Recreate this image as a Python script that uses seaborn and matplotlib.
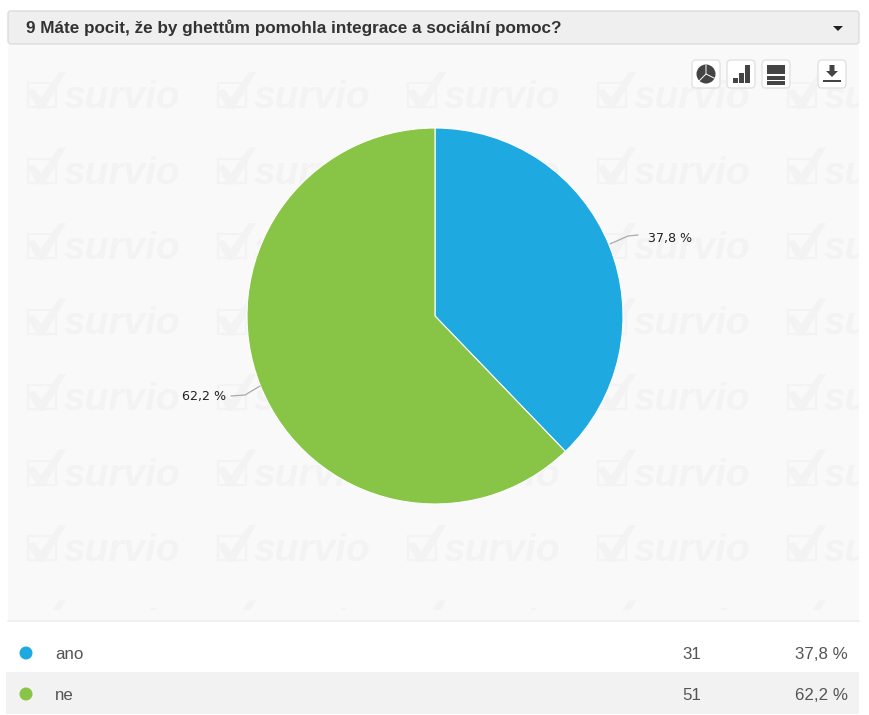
import matplotlib
matplotlib.use('Agg')
import matplotlib.pyplot as plt
from matplotlib.patches import Rectangle, FancyBboxPatch, Circle, Polygon
import seaborn as sns

# survey results
answers = ['ano', 'ne']
counts = [31, 51]
percent_labels = ['37,8 %', '62,2 %']
question = '9 Máte pocit, že by ghettům pomohla integrace a sociální pomoc?'

answer_colors = ['#1fa9e1', '#88c546']
text_color = '#555555'

sns.set_theme(style='white')
plt.rcParams['font.family'] = ['Liberation Sans', 'DejaVu Sans']

W, H = 869, 715
fig = plt.figure(figsize=(W / 100, H / 100), dpi=100, facecolor='white')

# background axes in pixel coords, for the panel and the table
bg = fig.add_axes([0, 0, 1, 1])
bg.set_xlim(0, W)
bg.set_ylim(H, 0)
bg.axis('off')

panel = Rectangle((8, 45), 851, 575, fc='#f9f9f9', ec='none', zorder=0)
bg.add_patch(panel)
bg.plot([8, 859], [620.5, 620.5], color='#ececec', lw=1.2, zorder=1)

# watermark
wm_color = '#f3f3f3'
wm_clip = Rectangle((8, 45), 851, 565, transform=bg.transData)
for top in [72, 147.5, 223, 298.5, 374, 449.5, 525, 600.5]:
    for left in [27, 217, 407, 597, 787]:
        box = Rectangle((left + 1, top + 11), 28, 24, fc='none', ec=wm_color, lw=1.5, zorder=1)
        bg.add_patch(box)
        box.set_clip_path(wm_clip)
        tick = Polygon([(left, top + 19), (left + 7, top + 17), (left + 14, top + 26), (left + 32, top),
                        (left + 39, top), (left + 17, top + 37), (left + 11, top + 37)],
                       fc=wm_color, ec='none', zorder=1)
        bg.add_patch(tick)
        tick.set_clip_path(wm_clip)
        t = bg.text(left + 37, top + 36, 'survio', fontsize=28, fontweight='bold', style='italic',
                    color=wm_color, va='baseline', ha='left', zorder=1, clip_on=True)
        t.set_clip_path(wm_clip)

# header bar
header = FancyBboxPatch((8, 11), 851, 33, boxstyle='round,pad=0,rounding_size=3',
                        fc='#efefef', ec='#dcdcdc', lw=1, zorder=2)
bg.add_patch(header)
bg.text(26, 28, question, fontsize=12.35, fontweight='bold', color='#333333', va='center', zorder=3)
bg.add_patch(Polygon([(833, 26), (843, 26), (838, 31)], fc='#222222', ec='none', zorder=3))

# toolbar buttons
icon_color = '#444444'
for x0 in [692, 727, 762, 818]:
    bg.add_patch(FancyBboxPatch((x0, 60), 28, 28, boxstyle='round,pad=0,rounding_size=4',
                                fc='white', ec='#e2e2e2', lw=1, zorder=3))
bg.add_patch(Circle((706, 74), 9.5, fc=icon_color, ec='none', zorder=4))
bg.plot([706, 706, 714], [65, 74, 78], color='white', lw=0.7, zorder=5)
bg.plot([706, 699], [74, 81], color='white', lw=0.7, zorder=5)
for bx, bh in [(733, 5), (739, 10), (745, 18)]:
    bg.add_patch(Rectangle((bx, 83 - bh), 4.5, bh, fc=icon_color, ec='none', zorder=4))
for by, bh in [(65, 9), (76, 3.5), (81, 3.5)]:
    bg.add_patch(Rectangle((766.5, by), 18.5, bh, fc=icon_color, ec='none', zorder=4))
bg.add_patch(Polygon([(829.5, 65), (834.5, 65), (834.5, 71), (838, 71), (832, 77), (826, 71), (829.5, 71)],
                     fc=icon_color, ec='none', zorder=4))
bg.add_patch(Rectangle((823, 79.5), 18, 2.5, fc=icon_color, ec='none', zorder=4))

# table under the chart
bg.add_patch(Rectangle((6, 672), 853, 42, fc='#f2f2f2', ec='none', zorder=1))
rows_y = [654.6, 695]
dots_y = [653, 694]
for name, count, pct, color, y, dot_y in zip(answers, counts, percent_labels, answer_colors, rows_y, dots_y):
    bg.add_patch(Circle((26, dot_y), 6.5, fc=color, ec='none', zorder=2))
    bg.text(55, y, name, fontsize=12.2, color=text_color, va='center', zorder=2)
    bg.text(701.5, y, str(count), fontsize=12.2, color=text_color, va='center', ha='right', zorder=2)
    bg.text(848, y, pct, fontsize=12.2, color=text_color, va='center', ha='right', zorder=2)

# pie, centre (435, 316) radius 188 px
cx, cy, r = 435, 316, 188
pie_ax = fig.add_axes([(cx - r) / W, 1 - (cy + r) / H, 2 * r / W, 2 * r / H])
pie_ax.patch.set_alpha(0)
pie_ax.pie(counts, colors=answer_colors, startangle=90, counterclock=False, radius=1,
           wedgeprops={'edgecolor': 'white', 'linewidth': 0.8})
pie_ax.set_xlim(-1, 1)
pie_ax.set_ylim(-1, 1)

# leader lines and pie labels on top
top_ax = fig.add_axes([0, 0, 1, 1])
top_ax.set_xlim(0, W)
top_ax.set_ylim(H, 0)
top_ax.axis('off')
top_ax.patch.set_alpha(0)
top_ax.plot([610, 628, 638], [244, 236, 235], color='#aaaaaa', lw=0.9)
top_ax.plot([260, 245, 231], [386, 395, 396], color='#aaaaaa', lw=0.9)
top_ax.text(648, 238.5, percent_labels[0], fontsize=9.1, color='#222222', va='center', family='DejaVu Sans')
top_ax.text(182, 396.5, percent_labels[1], fontsize=9.1, color='#222222', va='center', family='DejaVu Sans')

fig.savefig('out.png', dpi=100, facecolor='white')
